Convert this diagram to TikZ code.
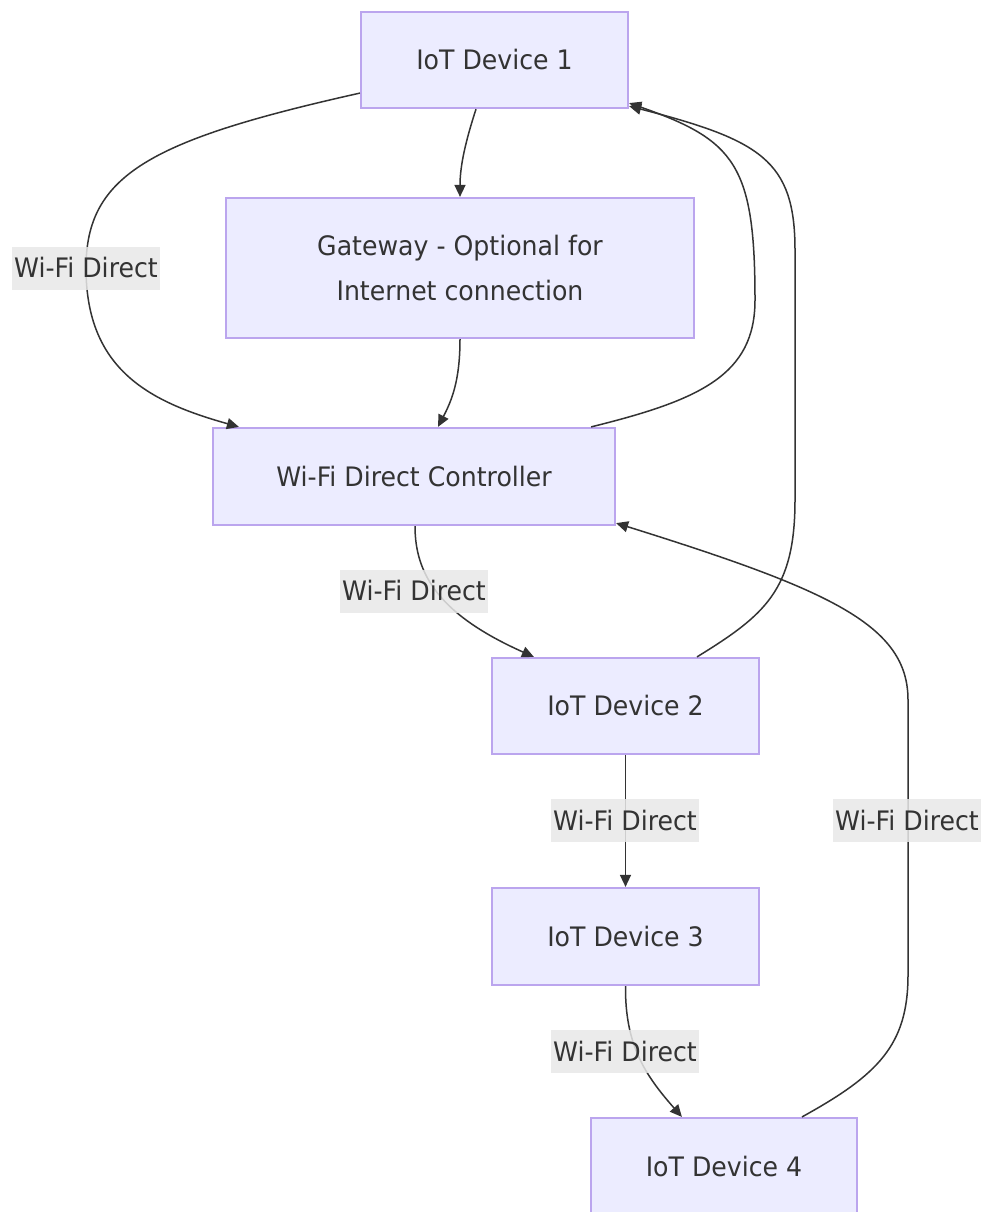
\documentclass[tikz,border=0pt]{standalone}
\usepackage{fontspec}
\setmainfont[FakeStretch=0.94]{DejaVu Sans}
\usetikzlibrary{arrows.meta}
\definecolor{nodefill}{HTML}{ECECFF}
\definecolor{nodeborder}{HTML}{BBA5EE}
\definecolor{edgecol}{HTML}{333333}
\definecolor{txtcol}{HTML}{333333}
\definecolor{lblfill}{HTML}{E8E8E8}
\tikzset{
  box/.style={draw=nodeborder, fill=nodefill, line width=2.2pt, text=txtcol,
    font=\fontsize{26.8}{45}\selectfont, align=center, inner sep=0pt},
  conn/.style={draw=edgecol, line width=1.5pt, -{Triangle[length=12pt,width=11pt]}},
  lbl/.style={fill=lblfill, fill opacity=0.85, text opacity=1, text=txtcol,
    font=\fontsize{26.8}{30}\selectfont, inner xsep=2pt, inner ysep=0pt,
    minimum height=43pt}
}
\begin{document}
\begin{tikzpicture}[x=1pt,y=-1pt]
\useasboundingbox (0,0) rectangle (987,1212);
\fill[white] (0,0) rectangle (987,1212);
% nodes
\node[box, minimum width=267pt, minimum height=96pt] (d1) at (494.5,60) {IoT Device 1};
\node[box, minimum width=468pt, minimum height=140pt] (gw) at (460,268) {Gateway - Optional for\\Internet connection};
\node[box, minimum width=402pt, minimum height=97pt] (ctl) at (414,476.5) {Wi-Fi Direct Controller};
\node[box, minimum width=267pt, minimum height=96pt] (d2) at (625.5,706) {IoT Device 2};
\node[box, minimum width=267pt, minimum height=97pt] (d3) at (625.5,936.5) {IoT Device 3};
\node[box, minimum width=266pt, minimum height=96pt] (d4) at (724,1166) {IoT Device 4};
% anchor coordinates
\path (d1.south) ++(-18.5,0) coordinate (d1b);
\path (d1.south west) ++(0,-16) coordinate (d1l);
\path (d1.south east) ++(0,-6) coordinate (d1r);
\path (d1.south east) ++(0,-3) coordinate (d1r2);
\path (gw.north) coordinate (gwt);
\path (gw.south) coordinate (gwb);
\path (ctl.north west) ++(27,0) coordinate (ctll);
\path (ctl.north) ++(24,0) coordinate (ctlt);
\path (ctl.north east) ++(-25,0) coordinate (ctlr);
\path (ctl.south) ++(1,0) coordinate (ctlb);
\path (ctl.south east) ++(0,-3) coordinate (ctlre);
\path (d2.north west) ++(43,0) coordinate (d2l);
\path (d2.north) ++(71.5,0) coordinate (d2r);
\path (d2.south) coordinate (d2b);
\path (d3.north) coordinate (d3t);
\path (d3.south) coordinate (d3b);
\path (d4.north west) ++(92,0) coordinate (d4l);
\path (d4.north) ++(78,0) coordinate (d4r);
% edges
\draw[conn] (d1b) .. controls (466,140) and (460,165) .. (gwt);
\draw[conn] (d1l) .. controls (150,140) and (86,175) .. (86,268)
  .. controls (86,370) and (150,402) .. (ctll);
\draw[conn] (gwb) .. controls (460,380) and (452,400) .. (ctlt);
\draw[conn] (ctlr) .. controls (700,400) and (755,375) .. (755,300)
  .. controls (755,165) and (735,140) .. (d1r);
\draw[conn] (d2r) .. controls (765,615) and (795,590) .. (795,500)
  -- (795,250) .. controls (795,160) and (760,140) .. (d1r2);
\draw[conn] (ctlb) .. controls (415,575) and (440,615) .. (d2l);
\draw[conn] (d2b) -- (d3t);
\draw[conn] (d3b) .. controls (625,1045) and (645,1075) .. (d4l);
\draw[conn] (d4r) .. controls (878,1075) and (908,1045) .. (908,975)
  -- (908,700) .. controls (908,625) and (830,590) .. (ctlre);
% labels
\node[lbl] (l1) at (86,268) {Wi-Fi Direct};
\node[lbl] (l2) at (414,591) {Wi-Fi Direct};
\node[lbl] (l3) at (625,820) {Wi-Fi Direct};
\node[lbl] (l4) at (625,1051) {Wi-Fi Direct};
\node[lbl] (l5) at (907,820) {Wi-Fi Direct};
\end{tikzpicture}
\end{document}
